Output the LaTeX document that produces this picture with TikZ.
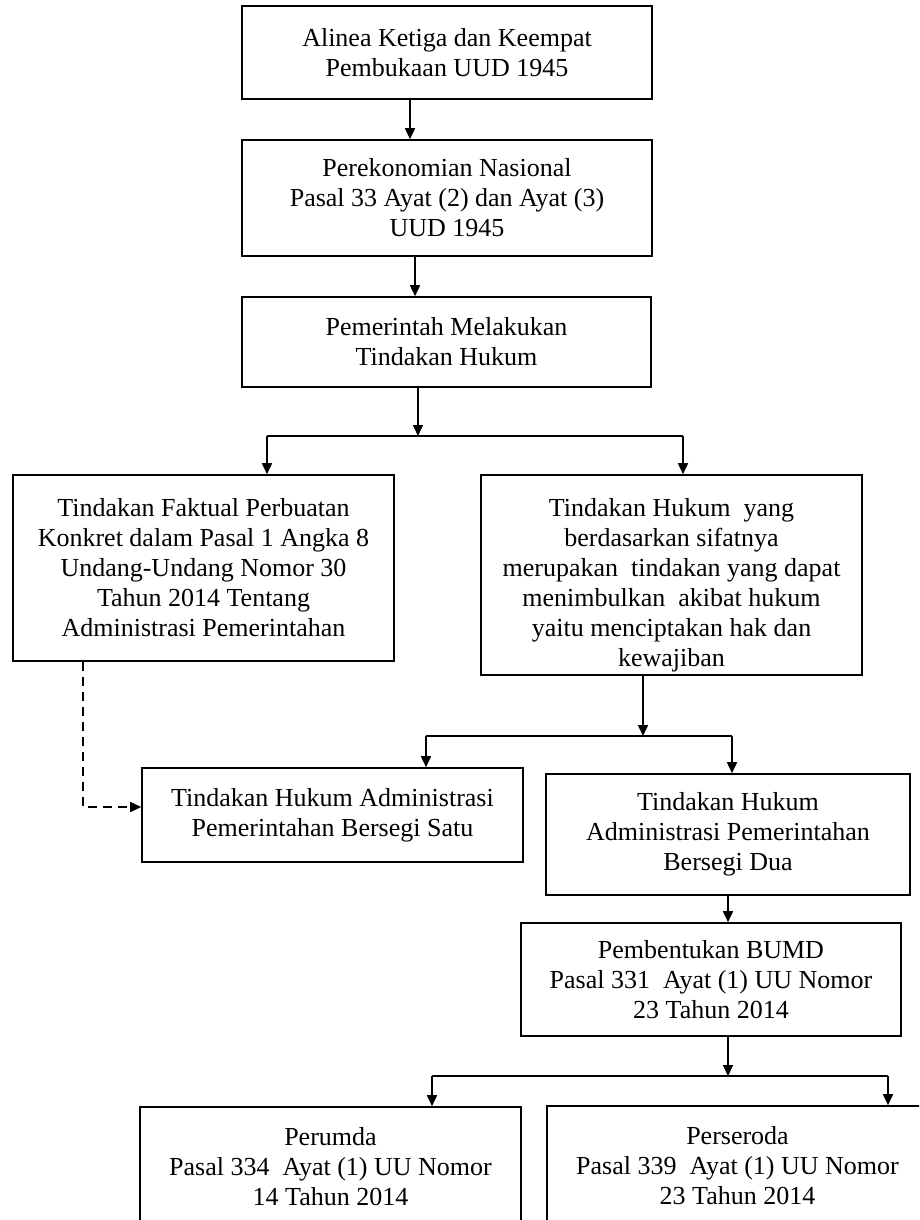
\documentclass[tikz,border=0pt]{standalone}
\usepackage{fontspec}
\setmainfont{Liberation Serif}
\usetikzlibrary{arrows.meta}

\tikzset{
  box/.style={draw, line width=1.6pt, rectangle, align=center, inner sep=0pt,
              font=\fontsize{26pt}{30pt}\selectfont},
  link/.style={line width=1.6pt},
  arr/.style={line width=1.6pt, -{Triangle[length=11pt,width=10pt]}},
  dashlink/.style={line width=1.6pt, dash pattern=on 9pt off 6pt,
                   -{Triangle[length=11pt,width=10pt]}}
}

\begin{document}
\begin{tikzpicture}[x=1pt,y=-1pt]
  \clip (0,0) rectangle (919,1220);

  % main column
  \node[box, minimum width=410pt, minimum height=93pt] (b1) at (447,52.5)
    {Alinea Ketiga dan Keempat\\Pembukaan UUD 1945};
  \node[box, minimum width=410pt, minimum height=116pt] (b2) at (447,198)
    {Perekonomian Nasional\\Pasal 33 Ayat (2) dan Ayat (3)\\UUD 1945};
  \node[box, minimum width=409pt, minimum height=90pt] (b3) at (446.5,342)
    {Pemerintah Melakukan\\Tindakan Hukum};

  % first branching
  \node[box, minimum width=381pt, minimum height=186pt] (b4) at (203.5,568)
    {Tindakan Faktual Perbuatan\\Konkret dalam Pasal 1 Angka 8\\Undang-Undang Nomor 30\\Tahun 2014 Tentang\\Administrasi Pemerintahan};
  \node[box, minimum width=381pt, minimum height=200pt] (b5) at (671.5,575)
    {\rule{0pt}{39pt}Tindakan Hukum\ \ yang\\berdasarkan sifatnya\\merupakan\ \ tindakan yang dapat\\menimbulkan\ \ akibat hukum\\yaitu menciptakan hak dan\\kewajiban};

  % second branching
  \node[box, minimum width=381pt, minimum height=94pt] (b6) at (332.5,815)
    {Tindakan Hukum Administrasi\\Pemerintahan Bersegi Satu};
  \node[box, minimum width=364pt, minimum height=121pt] (b7) at (728,834.5)
    {Tindakan Hukum\\Administrasi Pemerintahan\\Bersegi Dua};
  \node[box, minimum width=380pt, minimum height=113pt] (b8) at (711,979.5)
    {Pembentukan BUMD\\Pasal 331\ \ Ayat (1) UU Nomor\\23 Tahun 2014};

  % third branching
  \node[box, minimum width=381pt, minimum height=120pt] (b9) at (330.5,1167)
    {Perumda\\Pasal 334\ \ Ayat (1) UU Nomor\\14 Tahun 2014};
  \node[box, minimum width=381pt, minimum height=120pt] (b10) at (737.5,1166)
    {Perseroda\\Pasal 339\ \ Ayat (1) UU Nomor\\23 Tahun 2014};

  % straight links
  \draw[arr] ([xshift=-37pt]b1.south) -- ([xshift=-37pt]b1.south |- b2.north);
  \draw[arr] ([xshift=-32pt]b2.south) -- ([xshift=-32pt]b2.south |- b3.north);

  % split below b3
  \coordinate (s1) at (418,436);
  \coordinate (s1l) at (267,436);
  \coordinate (s1r) at (683,436);
  \draw[arr] (s1 |- b3.south) -- (s1);
  \draw[link] (s1l) -- (s1r);
  \draw[arr] (s1l) -- (s1l |- b4.north);
  \draw[arr] (s1r) -- (s1r |- b5.north);

  % split below b5
  \coordinate (s2) at (643,736);
  \coordinate (s2l) at (426,736);
  \coordinate (s2r) at (732,736);
  \draw[arr] (s2 |- b5.south) -- (s2);
  \draw[link] (s2l) -- (s2r);
  \draw[arr] (s2l) -- (s2l |- b6.north);
  \draw[arr] (s2r) -- (s2r |- b7.north);

  % b7 to b8
  \draw[arr] (b7.south) -- (b7.south |- b8.north);

  % split below b8
  \coordinate (s3) at (728,1076);
  \coordinate (s3l) at (432,1076);
  \coordinate (s3r) at (888,1076);
  \draw[arr] (s3 |- b8.south) -- (s3);
  \draw[link] (s3l) -- (s3r);
  \draw[arr] (s3l) -- (s3l |- b9.north);
  \draw[arr] (s3r) -- (s3r |- b10.north);

  % dashed link from b4 to b6
  \coordinate (d0) at (83,661);
  \draw[dashlink] (d0 |- b4.south) |- ([yshift=8pt]b6.west);
\end{tikzpicture}
\end{document}
